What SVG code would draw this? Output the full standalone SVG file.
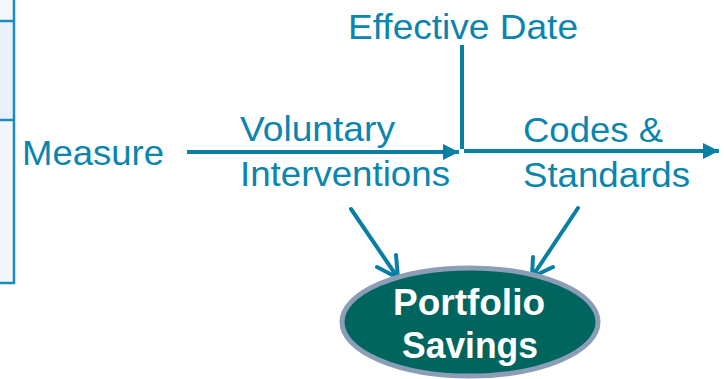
<svg xmlns="http://www.w3.org/2000/svg" width="724" height="379" viewBox="0 0 724 379">
<style>
.t{font-family:"Liberation Sans",Arial,sans-serif;font-size:35px;fill:#0A85AD}
.w{font-family:"Liberation Sans",Arial,sans-serif;font-size:36px;font-weight:bold;fill:#FFFFFF}
.ln{stroke:#0A7FA6;stroke-width:4;fill:none}
.op{stroke:#0A7FA6;stroke-width:4;fill:none;stroke-linecap:round}
</style>
<defs>
<marker id="tri" markerUnits="userSpaceOnUse" markerWidth="18" markerHeight="18" refX="16" refY="8" orient="auto">
<path d="M0,0 L16,8 L0,16 Z" fill="#0A7FA6"/>
</marker>
</defs>
<rect width="724" height="379" fill="#FFFFFF"/>
<g id="table">
<rect x="-10" y="-5" width="24" height="26" fill="#F4F8FD"/>
<rect x="-10" y="21" width="24" height="99" fill="#E8F0FA"/>
<rect x="-10" y="120" width="24" height="163" fill="#F2F6FC"/>
<path d="M14,-2 V283 H-10 M-10,21 H14 M-10,120 H14" stroke="#1A8DBC" stroke-width="2.5" fill="none"/>
</g>
<g id="labels">
<text class="t" x="22" y="165" textLength="142" lengthAdjust="spacingAndGlyphs">Measure</text>
<text class="t" x="348" y="39" textLength="230" lengthAdjust="spacingAndGlyphs">Effective Date</text>
<text class="t" x="240" y="141" textLength="155" lengthAdjust="spacingAndGlyphs">Voluntary</text>
<text class="t" x="240" y="186" textLength="210" lengthAdjust="spacingAndGlyphs">Interventions</text>
<text class="t" x="523" y="142" textLength="140" lengthAdjust="spacingAndGlyphs">Codes &amp;</text>
<text class="t" x="523" y="187" textLength="167" lengthAdjust="spacingAndGlyphs">Standards</text>
</g>
<g id="connectors">
<line class="ln" x1="187" y1="152" x2="459" y2="152" marker-end="url(#tri)"/>
<line class="ln" x1="464" y1="151" x2="719" y2="151" marker-end="url(#tri)"/>
<line class="ln" x1="462" y1="45" x2="462" y2="149"/>
<path class="op" d="M351,209 L398,278 M377,267 L398,278 L396,255"/>
<path class="op" d="M578,208 L532,277 M533,257 L532,277 L553,267"/>
</g>
<g id="portfolio">
<ellipse cx="470" cy="322" rx="128" ry="54" fill="#00655F" stroke="#8C9EB5" stroke-width="5"/>
<text class="w" x="393" y="315" textLength="152" lengthAdjust="spacingAndGlyphs">Portfolio</text>
<text class="w" x="402" y="358" textLength="136" lengthAdjust="spacingAndGlyphs">Savings</text>
</g>
</svg>
